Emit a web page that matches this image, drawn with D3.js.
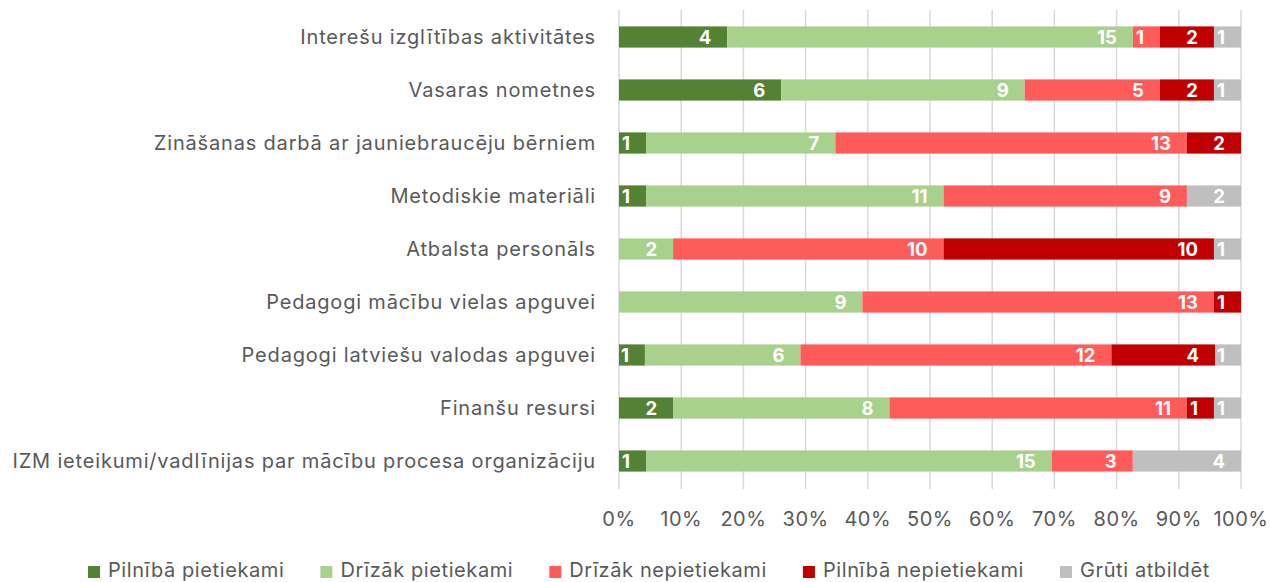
<!DOCTYPE html>
<html><head><meta charset="utf-8">
<script src="https://cdn.jsdelivr.net/npm/d3@7"></script>
<style>body{margin:0;background:#fff}svg{display:block}</style>
</head><body>
<svg id="chart" width="1271" height="582"></svg>
<script>
const categories = [
  "Interešu izglītības aktivitātes",
  "Vasaras nometnes",
  "Zināšanas darbā ar jauniebraucēju bērniem",
  "Metodiskie materiāli",
  "Atbalsta personāls",
  "Pedagogi mācību vielas apguvei",
  "Pedagogi latviešu valodas apguvei",
  "Finanšu resursi",
  "IZM ieteikumi/vadlīnijas par mācību procesa organizāciju"
];
const seriesNames = ["Pilnībā pietiekami","Drīzāk pietiekami","Drīzāk nepietiekami","Pilnībā nepietiekami","Grūti atbildēt"];
const pilnibaPietiekami   = [4, 6, 1, 1, 0, 0, 1, 2, 1];
const drizakPietiekami    = [15, 9, 7, 11, 2, 9, 6, 8, 15];
const drizakNepietiekami  = [1, 5, 13, 9, 10, 13, 12, 11, 3];
const pilnibaNepietiekami = [2, 2, 2, 0, 10, 1, 4, 1, 0];
const grutiAtbildet       = [1, 1, 0, 2, 1, 0, 1, 1, 4];
const tickLabels = ["0%","10%","20%","30%","40%","50%","60%","70%","80%","90%","100%"];
const colors = ["#548235","#A9D18E","#FF5B5B","#C00000","#BFBFBF"];

const seriesValues = [pilnibaPietiekami, drizakPietiekami, drizakNepietiekami, pilnibaNepietiekami, grutiAtbildet];
const rows = categories.map((c,i)=>{
  const r = {cat:c};
  seriesNames.forEach((s,j)=> r[s]=seriesValues[j][i]);
  r.total = d3.sum(seriesValues, v=>v[i]);
  return r;
});

const svg = d3.select("#chart");
const font = "Inter, 'Open Sans', sans-serif";
const textCol = "#595959";
const x = d3.scaleLinear().domain([0,1]).range([619,1241]);
const y = d3.scaleBand().domain(categories).range([10.5,487.5]).paddingInner(0.6).paddingOuter(0.3);

// gridlines
svg.append("g").selectAll("line").data(d3.range(0,11)).join("line")
  .attr("x1",d=>x(d/10)).attr("x2",d=>x(d/10))
  .attr("y1",10).attr("y2",489)
  .attr("stroke","#D9D9D9").attr("stroke-width",1.5);

const stack = d3.stack().keys(seriesNames).value((d,k)=>d[k]/d.total);
const stacked = stack(rows);

const g = svg.append("g");
stacked.forEach((layer,j)=>{
  g.append("g").selectAll("rect").data(layer).join("rect")
    .attr("x",d=>x(d[0])).attr("width",d=>x(d[1])-x(d[0]))
    .attr("y",d=>y(d.data.cat)).attr("height",y.bandwidth())
    .attr("fill",colors[j]);
});
stacked.forEach((layer,j)=>{
  g.append("g").selectAll("text").data(layer.filter(d=>d.data[layer.key]>0)).join("text")
    .attr("x",d=>x(d[1])-16)
    .attr("y",d=>y(d.data.cat)+y.bandwidth()/2)
    .attr("dy","0.36em")
    .attr("text-anchor","end")
    .attr("fill","#fff").attr("font-weight","bold")
    .attr("font-family",font).attr("font-size",18.5)
    .text(d=>d.data[layer.key]);
});

// category labels
svg.append("g").selectAll("text").data(categories).join("text")
  .attr("x",596).attr("y",d=>y(d)+y.bandwidth()/2).attr("dy","0.33em")
  .attr("text-anchor","end").attr("fill",textCol)
  .attr("font-family",font).attr("font-size",20).attr("letter-spacing","0.82px")
  .text(d=>d);

// x axis labels
svg.append("g").selectAll("text").data(tickLabels).join("text")
  .attr("x",(d,i)=>x(i/10)).attr("y",526)
  .attr("text-anchor","middle").attr("fill",textCol)
  .attr("font-family",font).attr("font-size",20).attr("letter-spacing","0.5px")
  .text(d=>d);

// legend
const lg = svg.append("g");
let cx = 88;
seriesNames.forEach((s,j)=>{
  lg.append("rect").attr("x",cx).attr("y",566).attr("width",12).attr("height",12).attr("fill",colors[j]);
  const t = lg.append("text").attr("x",cx+20).attr("y",576.5)
    .attr("fill",textCol).attr("font-family",font).attr("font-size",20).attr("letter-spacing","0.6px").text(s);
  cx += 20 + t.node().getComputedTextLength() + 36;
});
</script>
</body></html>
